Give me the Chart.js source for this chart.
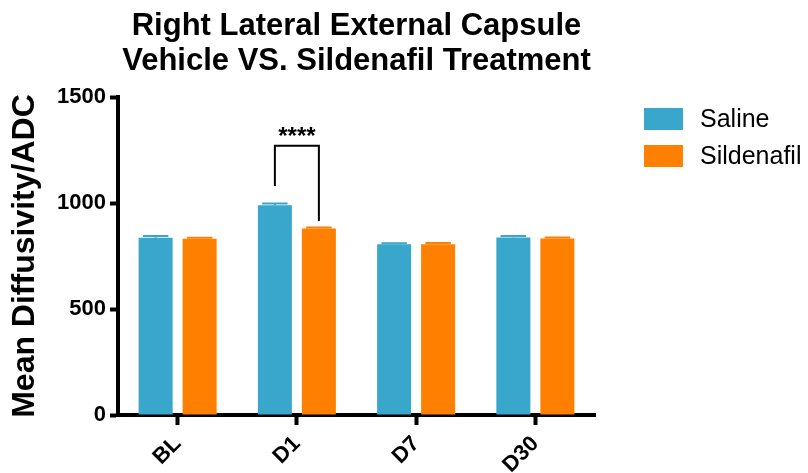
<!DOCTYPE html>
<html>
<head>
<meta charset="utf-8">
<script src="https://cdn.jsdelivr.net/npm/chart.js@4/dist/chart.umd.min.js"></script>
<style>
  html, body { margin: 0; padding: 0; background: #fff; }
</style>
</head>
<body>
<canvas id="chart" width="808" height="473"></canvas>
<script>
const days = ['BL', 'D1', 'D7', 'D30'];
const salineMean = [836, 990, 805, 837];
const salineErr = [9, 8, 5, 8];
const sildenafilMean = [832, 880, 806, 833];
const sildenafilErr = [4, 5, 5, 5];
const yTicks = [0, 500, 1000, 1500];

// significance bracket between saline and sildenafil on D1
const sigDay = 'D1';
const sigLeftEnd = 1080;
const sigTop = 1270;
const sigRightEnd = 915;
const sigLabel = '****';

const FONT = '"Liberation Sans", Arial, sans-serif';
const BLUE = '#39a6cb';
const ORANGE = '#ff7f00';

const extras = {
  id: 'extras',
  afterDatasetsDraw(chart) {
    const ctx = chart.ctx;
    const y = chart.scales.y;
    const errs = [salineErr, sildenafilErr];
    const means = [salineMean, sildenafilMean];

    // error bars
    chart.data.datasets.forEach((ds, i) => {
      chart.getDatasetMeta(i).data.forEach((bar, j) => {
        const top = y.getPixelForValue(means[i][j] + errs[i][j]);
        const w = bar.width * 0.75;
        ctx.save();
        ctx.strokeStyle = ds.backgroundColor;
        ctx.lineWidth = 2;
        ctx.beginPath();
        ctx.moveTo(bar.x, bar.y);
        ctx.lineTo(bar.x, top);
        ctx.moveTo(bar.x - w / 2, top);
        ctx.lineTo(bar.x + w / 2, top);
        ctx.stroke();
        ctx.restore();
      });
    });

    // significance bracket
    const k = days.indexOf(sigDay);
    const x0 = chart.getDatasetMeta(0).data[k].x;
    const x1 = chart.getDatasetMeta(1).data[k].x;
    const yt = y.getPixelForValue(sigTop);
    ctx.save();
    ctx.strokeStyle = '#000';
    ctx.lineWidth = 2;
    ctx.beginPath();
    ctx.moveTo(x0, y.getPixelForValue(sigLeftEnd));
    ctx.lineTo(x0, yt);
    ctx.lineTo(x1, yt);
    ctx.lineTo(x1, y.getPixelForValue(sigRightEnd));
    ctx.stroke();
    ctx.fillStyle = '#000';
    ctx.font = 'bold 24px ' + FONT;
    ctx.textAlign = 'center';
    ctx.textBaseline = 'alphabetic';
    ctx.fillText(sigLabel, (x0 + x1) / 2, yt - 2);
    ctx.restore();
  },
  afterDraw(chart) {
    // legend on the right
    const ctx = chart.ctx;
    const left = chart.chartArea.right + 49;
    chart.data.datasets.forEach((ds, i) => {
      const top = 108 + i * 37;
      ctx.save();
      ctx.fillStyle = ds.backgroundColor;
      ctx.fillRect(left, top, 39, 22);
      ctx.fillStyle = '#000';
      ctx.font = '25px ' + FONT;
      ctx.textBaseline = 'middle';
      ctx.fillText(ds.label, left + 56, top + 12);
      ctx.restore();
    });
  }
};

new Chart(document.getElementById('chart'), {
  type: 'bar',
  data: {
    labels: days,
    datasets: [
      { label: 'Saline', data: salineMean, backgroundColor: BLUE },
      { label: 'Sildenafil', data: sildenafilMean, backgroundColor: ORANGE }
    ]
  },
  options: {
    responsive: false,
    animation: false,
    layout: { padding: { left: 2, right: 213, top: 0, bottom: 0 } },
    datasets: { bar: { categoryPercentage: 0.738, barPercentage: 0.773 } },
    plugins: {
      legend: { display: false },
      tooltip: { enabled: false },
      title: {
        display: true,
        fullSize: false,
        text: ['Right Lateral External Capsule', 'Vehicle VS. Sildenafil Treatment'],
        color: '#000',
        font: { family: FONT, size: 31, weight: 'bold', lineHeight: 1.13 },
        padding: { top: 9, bottom: 18 }
      }
    },
    scales: {
      x: {
        offset: true,
        afterFit(axis) { axis.height = 58; },
        border: { display: true, width: 4, color: '#000' },
        grid: { display: true, offset: false, drawOnChartArea: false, tickLength: 10, tickWidth: 4, tickColor: '#000' },
        ticks: {
          color: '#000',
          font: { family: FONT, size: 22, weight: 'bold' },
          minRotation: 45,
          maxRotation: 45,
          padding: 6
        }
      },
      y: {
        min: 0,
        max: 1500,
        afterBuildTicks(axis) { axis.ticks = yTicks.map(v => ({ value: v })); },
        afterFit(axis) { axis.width = 116; },
        border: { display: true, width: 4, color: '#000' },
        grid: { display: true, drawOnChartArea: false, tickLength: 8, tickWidth: 4, tickColor: '#000' },
        ticks: {
          color: '#000',
          font: { family: FONT, size: 22, weight: 'bold' },
          padding: 4,
          callback: v => String(v)
        },
        title: {
          display: true,
          text: 'Mean Diffusivity/ADC',
          color: '#000',
          font: { family: FONT, size: 32, weight: 'bold' },
          padding: { top: 4, bottom: 12 }
        }
      }
    }
  },
  plugins: [extras]
});
</script>
</body>
</html>
